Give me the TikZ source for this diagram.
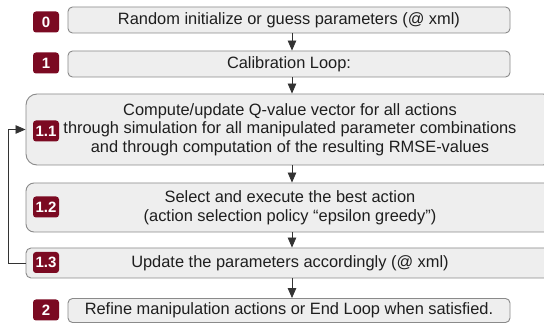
\documentclass[tikz,border=0pt]{standalone}
\usepackage{fontspec}
\setmainfont{Liberation Sans}
\usetikzlibrary{arrows.meta}
\definecolor{badgecol}{HTML}{7B0A22}
\definecolor{boxfill}{HTML}{EEEEEE}
\definecolor{boxline}{HTML}{8A8A8A}
\definecolor{txtcol}{HTML}{1E1E1E}
\begin{document}
\begin{tikzpicture}[x=1pt,y=-1pt,
  stepbox/.style={draw=boxline,fill=boxfill,line width=0.9pt,inner sep=0pt,align=center,
    text=txtcol,font=\fontsize{16.4}{18.6}\selectfont},
  badge/.style={fill=badgecol,rounded corners=3pt,minimum width=26pt,minimum height=21pt,
    inner sep=0pt,text=white,font=\fontsize{15}{15}\selectfont\bfseries},
  arr/.style={draw=black!80,line width=0.8pt,-{Triangle[length=10pt,width=8.5pt]}}]
\clip (0,0) rectangle (544,323);
\fill[white] (0,0) rectangle (544,323);
% boxes
\node[stepbox,rounded corners=4.5pt,minimum width=442pt,minimum height=26pt] (b0) at (289,20) {Random initialize or guess parameters (@ xml)};
\node[stepbox,rounded corners=4.5pt,minimum width=442pt,minimum height=26pt] (b1) at (289,64) {Calibration Loop:};
\node[stepbox,rounded corners=11pt,minimum width=528pt,minimum height=71pt] (b11) at (290,129.5) {Compute/update Q-value vector for all actions\\through simulation for all manipulated parameter combinations\\and through computation of the resulting RMSE-values};
\node[stepbox,rounded corners=8pt,minimum width=528pt,minimum height=49pt] (b12) at (290,207.5) {Select and execute the best action\\(action selection policy “epsilon greedy”)};
\node[stepbox,rounded corners=5pt,minimum width=528pt,minimum height=30pt] (b13) at (290,263) {Update the parameters accordingly (@ xml)};
\node[stepbox,rounded corners=4.5pt,minimum width=442pt,minimum height=24pt] (b2) at (289,310.5) {Refine manipulation actions or End Loop when satisfied.};
% badges
\node[badge] (n0) at (46,22) {0};
\node[badge] (n1) at (46,63) {1};
\node[badge] (n11) at (46,131) {1.1};
\node[badge] (n12) at (46,207) {1.2};
\node[badge] (n13) at (46,262.5) {1.3};
\node[badge] (n2) at (46,310) {2};
% arrows
\coordinate (ax) at (292,0);
\draw[arr] (b0.south -| ax) -- (b1.north -| ax);
\draw[arr] (b1.south -| ax) -- (b11.north -| ax);
\draw[arr] (b11.south -| ax) -- (b12.north -| ax);
\draw[arr] (b12.south -| ax) -- (b13.north -| ax);
\draw[arr] (b13.south -| ax) -- (b2.north -| ax);
\coordinate (lp) at (8,0);
\draw[arr] (b13.west) -- (b13.west -| lp) |- (b11.west);
\end{tikzpicture}
\end{document}
